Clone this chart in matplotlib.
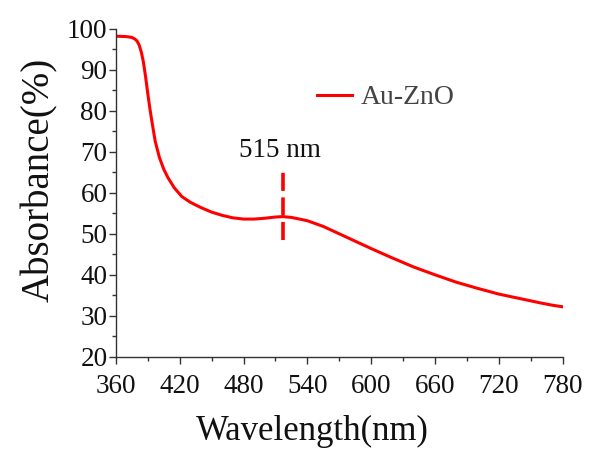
import numpy as np
import matplotlib.pyplot as plt
from matplotlib.ticker import MultipleLocator

# absorbance spectrum
wavelength = [360, 370, 375, 378, 380, 382, 384, 386, 388, 390, 392, 394, 397,
              401, 405, 409, 415, 422, 430, 440, 450, 460, 470, 480, 490, 500,
              510, 517, 525, 540, 555, 570, 585, 600, 620, 640, 660, 680, 700,
              720, 740, 760, 770, 780]
absorbance = [98.2, 98.1, 97.9, 97.5, 97.0, 96.0, 94.3, 91.8, 88.3, 84.3, 80.6,
              77.3, 72.6, 68.6, 65.8, 63.7, 61.2, 59.1, 57.7, 56.4, 55.3, 54.5,
              53.9, 53.6, 53.6, 53.8, 54.1, 54.2, 54.0, 53.2, 51.8, 50.0, 48.2,
              46.4, 44.1, 41.9, 40.0, 38.2, 36.7, 35.3, 34.2, 33.1, 32.6, 32.2]
series_label = "Au-ZnO"
peak_wl = 517
peak_text = "515 nm"

plt.rcParams["font.family"] = ["Liberation Serif", "DejaVu Serif"]

fig = plt.figure(figsize=(6, 4.5), dpi=100)
ax = fig.add_axes([0.193, 0.207, 0.745, 0.729])

ax.plot(wavelength, absorbance, color="#ff0000", lw=2.2, label=series_label,
        solid_joinstyle="round")
ax.plot([peak_wl, peak_wl], [48.5, 65], color="#ff0000", lw=2.6,
        linestyle=(0, (5, 1.8)))
ax.text(514, 68.8, peak_text, ha="center", va="baseline", fontsize=19.5,
        color="#111111")

ax.set_xlim(360, 780)
ax.set_ylim(20, 100)
ax.xaxis.set_major_locator(MultipleLocator(60))
ax.xaxis.set_minor_locator(MultipleLocator(30))
ax.yaxis.set_major_locator(MultipleLocator(10))
ax.yaxis.set_minor_locator(MultipleLocator(5))

for s in ["top", "right"]:
    ax.spines[s].set_visible(False)
for s in ["left", "bottom"]:
    ax.spines[s].set_color("#333333")
    ax.spines[s].set_linewidth(1.0)

ax.tick_params(which="major", direction="out", length=5, width=1,
               color="#333333", labelsize=19.5, labelcolor="#111111")
ax.tick_params(which="minor", direction="out", length=3, width=1, color="#333333")
ax.tick_params(axis="x", pad=7)
ax.tick_params(axis="y", pad=1)

fig.text(312 / 600, 1 - 440 / 450, "Wavelength(nm)", ha="center", va="baseline",
         fontsize=25, color="#111111")
fig.text(40 / 600, 1 - 180 / 450, "Absorbance(%)", ha="center", va="center",
         rotation=90, fontsize=28, color="#111111")

leg = ax.legend(loc="center left", bbox_to_anchor=(0.45, 0.79), frameon=False,
                fontsize=20, handlelength=1.26, handletextpad=0.3,
                borderpad=0, borderaxespad=0)
for t in leg.get_texts():
    t.set_color("#444444")

fig.savefig("out.png", dpi=100)
